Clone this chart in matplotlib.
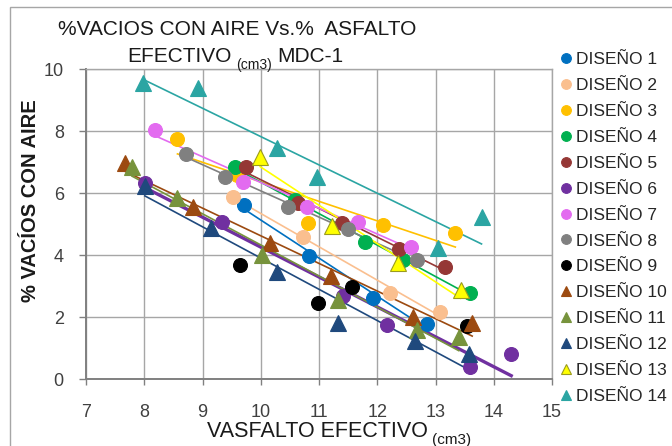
import numpy as np
import matplotlib
matplotlib.use('Agg')
import matplotlib.pyplot as plt
from matplotlib.patches import Rectangle

# Datos (VASFALTO efectivo vs % vacíos con aire)
d1_x = [9.71, 10.82, 11.93, 12.86]
d1_y = [5.62, 3.98, 2.61, 1.77]
d2_x = [9.53, 10.73, 12.22, 13.07]
d2_y = [5.87, 4.58, 2.78, 2.16]
d3_x = [8.57, 9.60, 10.81, 12.10, 13.34]
d3_y = [7.74, 6.58, 5.03, 4.97, 4.70]
d4_x = [9.56, 10.59, 11.79, 12.45, 13.60]
d4_y = [6.84, 5.77, 4.42, 3.83, 2.78]
d5_x = [9.75, 10.64, 11.40, 12.37, 13.17]
d5_y = [6.84, 5.68, 5.03, 4.18, 3.62]
d6_x = [8.01, 9.34, 11.42, 12.17, 13.60, 14.30]
d6_y = [6.32, 5.06, 2.68, 1.74, 0.40, 0.80]
d7_x = [8.19, 9.70, 10.79, 11.67, 12.58]
d7_y = [8.03, 6.35, 5.55, 5.06, 4.27]
d8_x = [8.72, 9.39, 10.47, 11.50, 12.69]
d8_y = [7.26, 6.52, 5.55, 4.84, 3.83]
d9_x = [9.65, 10.99, 11.57, 13.54]
d9_y = [3.68, 2.44, 2.97, 1.71]
d10_x = [7.67, 8.84, 10.16, 11.21, 12.62, 13.63]
d10_y = [6.97, 5.55, 4.39, 3.32, 2.00, 1.81]
d11_x = [7.79, 8.56, 10.02, 11.32, 12.69, 13.40]
d11_y = [6.84, 5.84, 4.00, 2.55, 1.58, 1.35]
d12_x = [8.01, 9.15, 10.28, 11.32, 12.64, 13.58]
d12_y = [6.23, 4.87, 3.45, 1.81, 1.23, 0.80]
d13_x = [9.99, 11.22, 12.36, 13.43]
d13_y = [7.16, 4.94, 3.74, 2.87]
d14_x = [7.98, 8.92, 10.28, 10.97, 13.05, 13.79]
d14_y = [9.55, 9.39, 7.45, 6.52, 4.22, 5.23]

nombres = ['DISEÑO 1', 'DISEÑO 2', 'DISEÑO 3', 'DISEÑO 4', 'DISEÑO 5', 'DISEÑO 6', 'DISEÑO 7',
           'DISEÑO 8', 'DISEÑO 9', 'DISEÑO 10', 'DISEÑO 11', 'DISEÑO 12', 'DISEÑO 13', 'DISEÑO 14']
xs = [d1_x, d2_x, d3_x, d4_x, d5_x, d6_x, d7_x, d8_x, d9_x, d10_x, d11_x, d12_x, d13_x, d14_x]
ys = [d1_y, d2_y, d3_y, d4_y, d5_y, d6_y, d7_y, d8_y, d9_y, d10_y, d11_y, d12_y, d13_y, d14_y]

colores = ['#0070C0', '#FABF8F', '#FFC000', '#00B050', '#953735', '#7030A0', '#E36BF0',
           '#808080', '#000000', '#9C4A10', '#77933C', '#1F497D', '#FFFF00', '#2BA5A3']
marcadores = ['o'] * 9 + ['^'] * 5

plt.rcParams['font.family'] = ['Liberation Sans', 'DejaVu Sans']

W, H = 672, 446


def fx(px):
    return px / W


def fy(py):
    return 1 - py / H


fig = plt.figure(figsize=(W / 100, H / 100), dpi=100)
ax = fig.add_axes([fx(86), fy(379), (552 - 86) / W, (379 - 69) / H])

# Borde exterior del gráfico
fig.add_artist(Rectangle((fx(10), fy(460)), 1, fy(7) - fy(460), transform=fig.transFigure,
                         fill=False, edgecolor='#A6A6A6', linewidth=1.0, clip_on=False))

handles = []
for i in range(14):
    x = np.array(xs[i])
    y = np.array(ys[i])
    edge = '#9B9B1E' if i == 12 else colores[i]
    ms = 10 if marcadores[i] == 'o' else 11
    h, = ax.plot(x, y, linestyle='none', marker=marcadores[i], markersize=ms,
                 markerfacecolor=colores[i], markeredgecolor=edge, markeredgewidth=0.8,
                 zorder=3, label=nombres[i])
    handles.append(h)
    # línea de tendencia lineal (el diseño 9 no la tiene)
    if i != 8:
        m, b = np.polyfit(x, y, 1)
        xt = np.array([x.min(), x.max()])
        lw = 2.4 if i == 5 else 1.2
        ax.plot(xt, m * xt + b, color=colores[i], linewidth=lw, zorder=2.5)

ax.set_xlim(7, 15)
ax.set_ylim(0, 10)
ax.set_xticks(range(7, 16))
ax.set_yticks(range(0, 11, 2))
ax.grid(color='#A6A6A6', linewidth=1.0, zorder=0)
ax.set_axisbelow(True)
for s in ['top', 'right']:
    ax.spines[s].set_color('#A6A6A6')
    ax.spines[s].set_linewidth(1.0)
for s in ['left', 'bottom']:
    ax.spines[s].set_color('#808080')
    ax.spines[s].set_linewidth(1.4)
ax.tick_params(axis='x', direction='out', length=4, width=1, color='#808080',
               pad=14, labelsize=13, labelcolor='#404040')
ax.tick_params(axis='y', direction='out', length=5, width=1, color='#808080',
               pad=11, labelsize=13, labelcolor='#404040')

# Título en dos líneas con subíndice
fig.text(fx(237), fy(35), '%VACIOS CON AIRE Vs.%  ASFALTO', ha='center', va='baseline',
         fontsize=15, color='#1A1A1A')
fig.text(fx(232), fy(62), 'EFECTIVO', ha='right', va='baseline', fontsize=15, color='#1A1A1A')
fig.text(fx(236), fy(69), '(cm3)', ha='left', va='baseline', fontsize=10, color='#1A1A1A')
fig.text(fx(277), fy(62), 'MDC-1', ha='left', va='baseline', fontsize=15, color='#1A1A1A')

# Ejes
fig.text(fx(428), fy(437), 'VASFALTO EFECTIVO', ha='right', va='baseline', fontsize=15.5,
         color='#1A1A1A')
fig.text(fx(432), fy(444), '(cm3)', ha='left', va='baseline', fontsize=11, color='#1A1A1A')
fig.text(fx(31), fy(201), '% VACÍOS CON AIRE', rotation=90, ha='center', va='center',
         fontsize=14.5, fontweight='bold', color='#1A1A1A')

fig.legend(handles=handles, loc='upper left', bbox_to_anchor=(fx(561), fy(52)),
           frameon=False, fontsize=12.5, markerscale=0.7, handlelength=0.6,
           handletextpad=0.25, labelspacing=0.62, borderaxespad=0, borderpad=0,
           labelcolor='#262626')

fig.savefig('out.png', dpi=100)
